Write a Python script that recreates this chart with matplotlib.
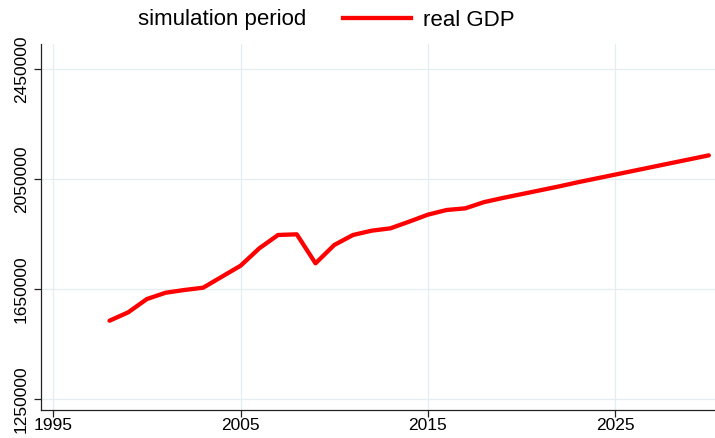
import matplotlib
matplotlib.use("Agg")
import matplotlib.pyplot as plt
from matplotlib.patches import Patch
from matplotlib.lines import Line2D

plt.rcParams['font.family'] = ['Liberation Sans', 'DejaVu Sans']

# data
years = list(range(1998, 2031))
real_gdp = [1534700, 1565200, 1613600, 1636500, 1646400, 1654700, 1694700,
            1734700, 1798000, 1846400, 1848800, 1743300, 1810000, 1846400,
            1862100, 1870600, 1894900, 1920300, 1937300, 1943300, 1966000,
            1981000, 1995000, 2009000, 2023000, 2038000, 2052000, 2066000,
            2080000, 2094000, 2108000, 2122000, 2136000]
xticks = [1995, 2005, 2015, 2025]
yticks = [1250000, 1650000, 2050000, 2450000]

W, H = 715, 438
fig = plt.figure(figsize=(W / 100, H / 100), dpi=100)
ax = fig.add_axes([41 / W, 28 / H, 674 / W, 366 / H])

ax.plot(years, real_gdp, color='#ff0000', lw=3.1, solid_capstyle='round',
        zorder=3)

ax.set_xlim(1994.343, 2030.33)
ax.set_ylim(1210000, 2540900)
ax.set_xticks(xticks)
ax.set_yticks(yticks)
ax.set_yticklabels([str(v) for v in yticks], rotation=90, va='center')
ax.grid(True, color='#e4eef0', lw=0.9)
ax.set_axisbelow(True)

for s in ['top', 'right']:
    ax.spines[s].set_visible(False)
for s in ['left', 'bottom']:
    ax.spines[s].set_color('#222222')
    ax.spines[s].set_linewidth(0.9)
ax.tick_params(axis='x', length=5, width=0.9, color='#222222', pad=1,
               labelsize=12.5)
ax.tick_params(axis='y', length=5.2, width=0.9, color='#222222', pad=3.5,
               labelsize=12.5)

handles = [Patch(facecolor='white', edgecolor='none'),
           Line2D([], [], color='#ff0000', lw=3.1)]
fig.legend(handles, ['simulation period', 'real GDP'], ncol=2,
           loc='center left', bbox_to_anchor=(57 / W, 1 - 20 / H),
           frameon=False, fontsize=16, borderpad=0, borderaxespad=0,
           handlelength=3.1, handletextpad=0.53, columnspacing=1.65)

fig.savefig('out.png', dpi=100)
